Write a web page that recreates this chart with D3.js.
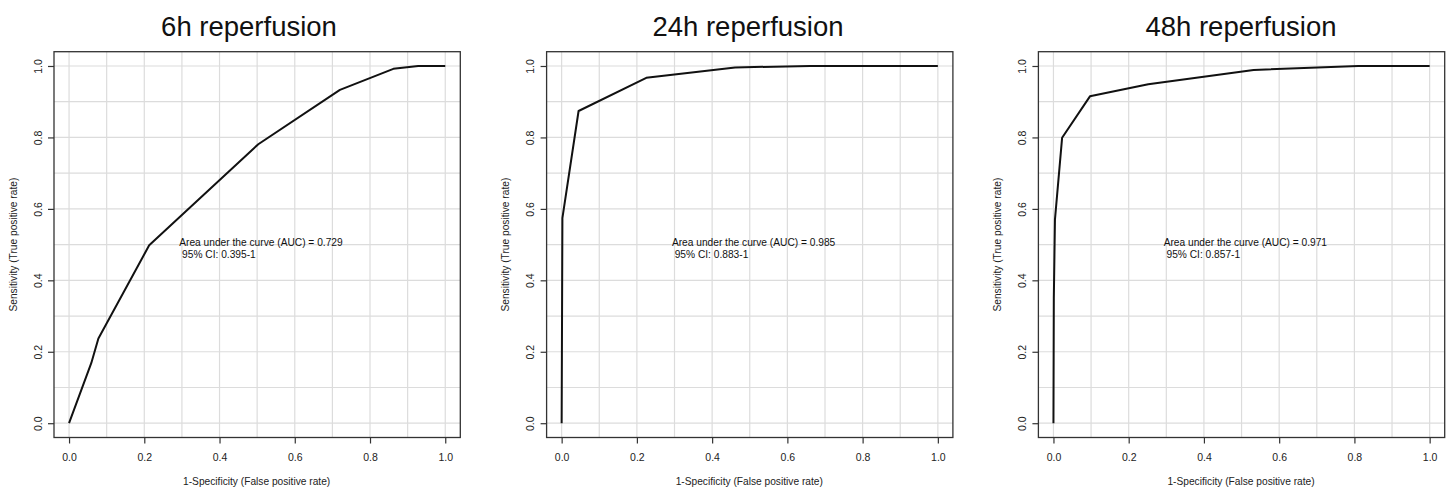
<!DOCTYPE html>
<html>
<head>
<meta charset="utf-8">
<script src="https://cdn.jsdelivr.net/npm/d3@7"></script>
<style>
  html, body { margin: 0; padding: 0; background: #fff; }
  svg { display: block; font-family: "Liberation Sans", Arial, Helvetica, sans-serif; }
</style>
</head>
<body>
<svg id="chart" width="1448" height="487"></svg>
<script>
// ---- data ----
const titles = ["6h reperfusion", "24h reperfusion", "48h reperfusion"];
const aucLabels = ["Area under the curve (AUC) = 0.729", "Area under the curve (AUC) = 0.985", "Area under the curve (AUC) = 0.971"];
const ciLabels = [" 95% CI: 0.395-1", " 95% CI: 0.883-1", " 95% CI: 0.857-1"];

const fpr6h  = [0, 0.059, 0.078, 0.213, 0.503, 0.720, 0.862, 0.928, 1];
const tpr6h  = [0, 0.168, 0.237, 0.498, 0.781, 0.933, 0.992, 1.000, 1];
const fpr24h = [0, 0.002, 0.045, 0.225, 0.461, 0.660, 1];
const tpr24h = [0, 0.574, 0.874, 0.967, 0.996, 1.000, 1];
const fpr48h = [0, 0.001, 0.004, 0.023, 0.097, 0.252, 0.532, 0.810, 1];
const tpr48h = [0, 0.350, 0.570, 0.799, 0.915, 0.949, 0.989, 1.000, 1];

const tickValues = [0, 0.2, 0.4, 0.6, 0.8, 1.0];
const gridValues = [0, 0.1, 0.2, 0.3, 0.4, 0.5, 0.6, 0.7, 0.8, 0.9, 1.0];
const xAxisTitle = "1-Specificity (False positive rate)";
const yAxisTitle = "Sensitivity (True positive rate)";

const curves = [
  fpr6h.map((x, i) => ({ x, y: tpr6h[i] })),
  fpr24h.map((x, i) => ({ x, y: tpr24h[i] })),
  fpr48h.map((x, i) => ({ x, y: tpr48h[i] }))
];

// ---- layout ----
const svg = d3.select("#chart");
const boxLefts = [54, 546.6, 1038.4];
const boxW = 406.3;
const boxTop = 51.7, boxBottom = 437.5;
const titleCenters = [249, 748, 1241];

boxLefts.forEach((bl, p) => {
  const x = d3.scaleLinear().domain([-0.04, 1.04]).range([bl, bl + boxW]);
  const y = d3.scaleLinear().domain([-0.04, 1.04]).range([boxBottom, boxTop]);
  const g = svg.append("g");

  // grid
  g.selectAll(".vg").data(gridValues).enter().append("line")
    .attr("x1", d => x(d)).attr("x2", d => x(d))
    .attr("y1", boxTop).attr("y2", boxBottom)
    .attr("stroke", "#dcdcdc").attr("stroke-width", 1.2);
  g.selectAll(".hg").data(gridValues).enter().append("line")
    .attr("y1", d => y(d)).attr("y2", d => y(d))
    .attr("x1", bl).attr("x2", bl + boxW)
    .attr("stroke", "#dcdcdc").attr("stroke-width", 1.2);

  // axes
  const xAxis = d3.axisBottom(x).tickValues(tickValues).tickSize(6).tickPadding(8)
    .tickFormat(d3.format(".1f")).tickSizeOuter(0);
  const gx = g.append("g").attr("transform", `translate(0,${boxBottom})`).call(xAxis);
  gx.select(".domain").remove();
  gx.selectAll("line").attr("stroke", "#333").attr("stroke-width", 1.2);
  gx.selectAll("text").attr("font-size", 10.5).attr("fill", "#222")
    .attr("font-family", "Liberation Sans, Arial, sans-serif")
    .attr("y", 0).attr("dy", 0)
    .attr("transform", "translate(0,23.5)");

  const yAxis = d3.axisLeft(y).tickValues(tickValues).tickSize(6)
    .tickFormat(d3.format(".1f")).tickSizeOuter(0);
  const gy = g.append("g").attr("transform", `translate(${bl},0)`).call(yAxis);
  gy.select(".domain").remove();
  gy.selectAll("line").attr("stroke", "#333").attr("stroke-width", 1.2);
  gy.selectAll("text").attr("font-size", 10.5).attr("fill", "#222")
    .attr("font-family", "Liberation Sans, Arial, sans-serif")
    .attr("x", 0).attr("dy", 0).attr("text-anchor", "middle")
    .attr("transform", "translate(-12.5,0) rotate(-90)");

  // box
  g.append("rect").attr("x", bl).attr("y", boxTop)
    .attr("width", boxW).attr("height", boxBottom - boxTop)
    .attr("fill", "none").attr("stroke", "#333").attr("stroke-width", 1.3);

  // curve
  const line = d3.line().x(d => x(d.x)).y(d => y(d.y));
  g.append("path").datum(curves[p]).attr("d", line)
    .attr("fill", "none").attr("stroke", "#111").attr("stroke-width", 2)
    .attr("stroke-linejoin", "round");

  // annotation
  g.append("text").attr("x", x(0.293)).attr("y", y(0.507)).attr("dy", "0.35em")
    .attr("font-size", 10.2).attr("fill", "#111").style("white-space", "pre")
    .text(aucLabels[p]);
  g.append("text").attr("x", x(0.293)).attr("y", y(0.473)).attr("dy", "0.35em")
    .attr("font-size", 10.2).attr("fill", "#111").style("white-space", "pre")
    .attr("xml:space", "preserve")
    .text(ciLabels[p]);

  // titles
  g.append("text").attr("x", titleCenters[p]).attr("y", 35.7)
    .attr("text-anchor", "middle").attr("font-size", 27.5).attr("fill", "#111")
    .text(titles[p]);
  g.append("text").attr("x", (bl + bl + boxW) / 2 - 0.5).attr("y", 484.5)
    .attr("text-anchor", "middle").attr("font-size", 10.2).attr("fill", "#222")
    .text(xAxisTitle);
  g.append("text")
    .attr("transform", `translate(${bl - 37.5},${(boxTop + boxBottom) / 2}) rotate(-90)`)
    .attr("text-anchor", "middle").attr("font-size", 10.2).attr("fill", "#222")
    .text(yAxisTitle);
});
</script>
</body>
</html>
